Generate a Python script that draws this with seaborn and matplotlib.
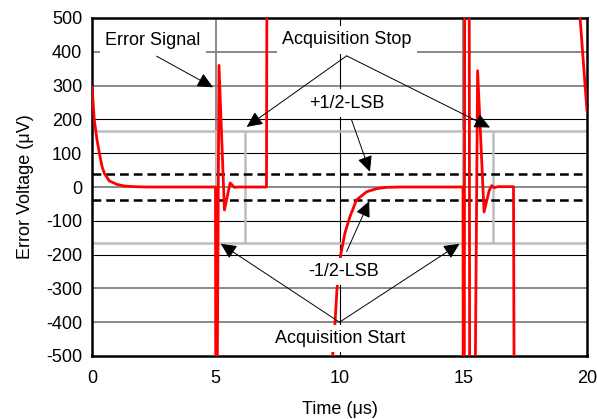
import numpy as np
import pandas as pd
import matplotlib
matplotlib.use("Agg")
import matplotlib.pyplot as plt
import seaborn as sns

# ---------------- data ----------------
# Error signal (µV) vs time (µs), split into its three visible pieces
err1_t = [0.00, 0.09, 0.20, 0.30, 0.40, 0.50, 0.70, 1.00, 1.30, 1.70, 2.20, 4.99,
          5.00, 5.05, 5.13, 5.35, 5.58, 5.75, 5.90, 7.05, 7.07]
err1_v = [297, 200, 140, 100, 62, 40, 18, 8, 3, 1, 0, 0,
          -700, -700, 360, -68, 12, -1, 0, 0, 700]

err2_t = [9.60, 9.72, 9.82, 9.90, 10.05, 10.22, 10.42, 10.69, 11.10, 11.50, 11.90, 12.50,
          14.99, 15.00, 15.04, 15.06, 15.24, 15.26, 15.47, 15.58, 15.84, 16.05, 16.15,
          16.25, 16.40, 17.03, 17.06]
err2_v = [-800, -500, -400, -300, -200, -136, -88, -38, -14, -5, -1, 0,
          0, -700, -700, 700, 700, -700, -700, 344, -74, -10, 4,
          -2, 1, 1, -700]

err3_t = [19.70, 20.00]
err3_v = [520, 225]

acq_level = 165                      # acquisition signal levels (±)
acq_edges = [5.0, 6.2, 15.0, 16.2]   # acquisition signal edges (µs)
lsb_half = 38                        # ±1/2 LSB (µV)
grid_dark = [200, 100, -100, -200]
grid_grey = [400, 300, 0, -300, -400]
x_ticks = [0, 5, 10, 15, 20]
y_ticks = list(range(-500, 501, 100))

# ---------------- style ----------------
sns.set_theme(style="white")
plt.rcParams["font.family"] = ["Liberation Sans", "DejaVu Sans"]
plt.rcParams["axes.unicode_minus"] = False

fig = plt.figure(figsize=(5.97, 4.19), dpi=100)
ax = fig.add_axes([92 / 597, 1 - 356 / 419, (587 - 92) / 597, (356 - 18) / 419])

df = pd.concat([
    pd.DataFrame({"t": err1_t, "v": err1_v, "seg": 1}),
    pd.DataFrame({"t": err2_t, "v": err2_v, "seg": 2}),
    pd.DataFrame({"t": err3_t, "v": err3_v, "seg": 3}),
], ignore_index=True)

# grid
for y in grid_grey:
    ax.axhline(y, color="#808080", lw=1.3, zorder=1)
for y in grid_dark:
    ax.axhline(y, color="black", lw=0.8, zorder=1)
ax.axvline(5, color="#808080", lw=1.3, zorder=1)
ax.axvline(10, color="black", lw=0.8, zorder=1)
ax.axvline(15, color="#808080", lw=1.3, zorder=1)

# acquisition signal (light grey)
for y in (acq_level, -acq_level):
    ax.axhline(y, color="#bdbdbd", lw=1.8, zorder=1.5)
ax.vlines(acq_edges, -acq_level, acq_level, color="#bdbdbd", lw=1.8, zorder=1.5)

# ±1/2 LSB dashed lines
for y in (lsb_half, -lsb_half):
    ax.axhline(y, color="black", lw=1.8, dashes=(3.5, 2.0), zorder=2)

# error signal
sns.lineplot(data=df, x="t", y="v", units="seg", estimator=None, sort=False,
             color="red", linewidth=2.0, ax=ax, zorder=3, legend=False)

ax.set_xlim(0, 20)
ax.set_ylim(-500, 500)
ax.set_xticks(x_ticks)
ax.set_yticks(y_ticks)
ax.tick_params(axis="x", length=0, labelsize=13, pad=10, colors="black")
ax.tick_params(axis="y", length=0, labelsize=13, pad=7, colors="black")
ax.set_xlabel("Time (μs)", fontsize=13, labelpad=10, color="black")
ax.set_ylabel("Error Voltage (μV)", fontsize=13, labelpad=9, color="black")
for sp in ax.spines.values():
    sp.set_color("black")
    sp.set_linewidth(1.8)
    sp.set_visible(True)


def label(x, y, s):
    ax.text(x, y, s, ha="center", va="center", fontsize=13, zorder=6, color="black",
            bbox=dict(boxstyle="square,pad=0.3", fc="white", ec="none"))


def arrow(x0, y0, x1, y1):
    ax.annotate("", xy=(x1, y1), xytext=(x0, y0), zorder=7,
                arrowprops=dict(arrowstyle="-|>,head_length=0.8,head_width=0.38",
                                color="black", lw=0.7, shrinkA=0, shrinkB=0,
                                mutation_scale=12))


label(2.47, 433, "Error Signal")
arrow(2.61, 387, 4.89, 295)

label(10.29, 435, "Acquisition Stop")
arrow(10.29, 388, 6.25, 178)
arrow(10.29, 388, 16.08, 176)

label(10.29, 248, "+1/2-LSB")
arrow(10.49, 198, 11.23, 45)

label(10.15, -250, "-1/2-LSB")
arrow(10.29, -191, 11.2, -42)

label(10.02, -448, "Acquisition Start")
arrow(10.0, -400, 5.2, -168)
arrow(10.0, -400, 14.85, -168)

fig.savefig("out.png", dpi=100)
